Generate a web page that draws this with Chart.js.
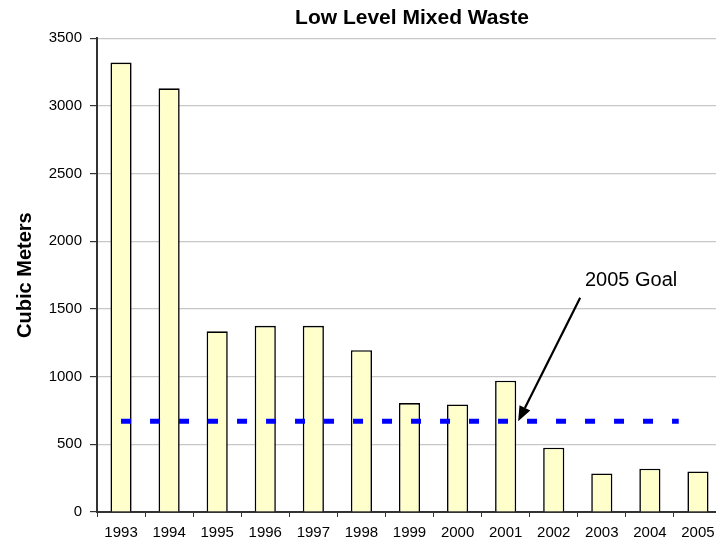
<!DOCTYPE html>
<html>
<head>
<meta charset="utf-8">
<title>Low Level Mixed Waste</title>
<script src="https://cdn.jsdelivr.net/npm/chart.js@4/dist/chart.umd.min.js"></script>
<style>
  html, body { margin: 0; padding: 0; background: #fff; overflow: hidden; }
  #wrap { width: 824px; height: 542px; }
</style>
</head>
<body>
<div id="wrap"><canvas id="wasteChart" width="824" height="542"></canvas></div>
<script>
  // data
  const years = ["1993", "1994", "1995", "1996", "1997", "1998", "1999", "2000", "2001", "2002", "2003", "2004", "2005"];
  const volumes = [3320, 3130, 1335, 1375, 1375, 1195, 805, 795, 970, 475, 285, 320, 300];
  const goalValue = 670;
  const goalLine = [{ x: 0, y: goalValue }, { x: 11.6, y: goalValue }];
  const yTicks = [0, 500, 1000, 1500, 2000, 2500, 3000, 3500];

  const FONT = "'Liberation Sans', Arial, sans-serif";

  // "2005 Goal" label with its arrow, placed in data units
  const goalNote = {
    text: "2005 Goal",
    textAt: { x: 10.61, y: 1713 },
    from: { x: 9.55, y: 1582 },
    to: { x: 8.26, y: goalValue }
  };

  const notePlugin = {
    id: "goalNote",
    afterDatasetsDraw(chart) {
      const ctx = chart.ctx;
      const xs = chart.scales.xg;
      const ys = chart.scales.y;

      ctx.save();
      ctx.fillStyle = "#000";
      ctx.font = "20px " + FONT;
      ctx.textAlign = "center";
      ctx.textBaseline = "middle";
      ctx.fillText(goalNote.text, xs.getPixelForValue(goalNote.textAt.x), ys.getPixelForValue(goalNote.textAt.y));

      const x1 = xs.getPixelForValue(goalNote.from.x);
      const y1 = ys.getPixelForValue(goalNote.from.y);
      const x2 = xs.getPixelForValue(goalNote.to.x);
      const y2 = ys.getPixelForValue(goalNote.to.y);
      const ang = Math.atan2(y2 - y1, x2 - x1);
      const headLen = 15;
      const headHalf = 6;
      const bx = x2 - headLen * Math.cos(ang);
      const by = y2 - headLen * Math.sin(ang);

      ctx.strokeStyle = "#000";
      ctx.lineWidth = 2.2;
      ctx.beginPath();
      ctx.moveTo(x1, y1);
      ctx.lineTo(bx, by);
      ctx.stroke();

      ctx.beginPath();
      ctx.moveTo(x2, y2);
      ctx.lineTo(bx + headHalf * Math.sin(ang), by - headHalf * Math.cos(ang));
      ctx.lineTo(bx - headHalf * Math.sin(ang), by + headHalf * Math.cos(ang));
      ctx.closePath();
      ctx.fill();
      ctx.restore();
    }
  };

  document.addEventListener("DOMContentLoaded", () => {
    const ctx = document.getElementById("wasteChart").getContext("2d");

    new Chart(ctx, {
      data: {
        labels: years,
        datasets: [
          {
            type: "bar",
            label: "Low Level Mixed Waste",
            data: volumes,
            backgroundColor: "#FFFFCC",
            borderColor: "#000",
            borderWidth: 1.6,
            barPercentage: 0.44,
            categoryPercentage: 1,
            grouped: false,
            order: 2
          },
          {
            type: "line",
            label: "2005 Goal",
            data: goalLine,
            xAxisID: "xg",
            borderColor: "#0000FF",
            borderWidth: 5,
            borderDash: [10, 19],
            borderCapStyle: "butt",
            pointRadius: 0,
            fill: false,
            order: 1
          }
        ]
      },
      options: {
        responsive: false,
        animation: false,
        devicePixelRatio: 1,
        plugins: {
          legend: { display: false },
          tooltip: { enabled: false },
          title: {
            display: true,
            text: "Low Level Mixed Waste",
            color: "#000",
            font: { family: FONT, size: 21, weight: "bold" },
            padding: { top: 6, bottom: 7 }
          }
        },
        scales: {
          x: {
            type: "category",
            offset: true,
            grid: {
              display: true,
              drawOnChartArea: false,
              drawTicks: true,
              tickLength: 5,
              tickColor: "#333",
              offset: true
            },
            border: { color: "#333", width: 2 },
            ticks: {
              color: "#000",
              font: { family: FONT, size: 15 },
              padding: 7,
              maxRotation: 0,
              autoSkip: false
            },
            afterFit: (scale) => { scale.height = 30; }
          },
          xg: {
            type: "linear",
            display: false,
            min: -0.5,
            max: 12.5
          },
          y: {
            min: 0,
            max: 3500,
            afterBuildTicks: (scale) => {
              scale.ticks = yTicks.map(v => ({ value: v }));
            },
            grid: {
              color: "#c8c8c8",
              lineWidth: 1.2,
              tickLength: 7,
              tickColor: "#333"
            },
            border: { color: "#333", width: 2 },
            ticks: {
              color: "#000",
              font: { family: FONT, size: 15 },
              padding: 8,
              callback: (v) => String(v)
            },
            title: {
              display: true,
              text: "Cubic Meters",
              color: "#000",
              font: { family: FONT, size: 20, weight: "bold" },
              padding: { top: 13, bottom: 0 }
            },
            afterFit: (scale) => { scale.width = 97; }
          },
          // empty right axis: keeps the plot running past the window edge
          // while the title stays centred on the whole canvas
          spacer: {
            type: "linear",
            position: "right",
            display: true,
            grid: { display: false, drawTicks: false },
            border: { display: false },
            ticks: { display: false },
            afterFit: (scale) => { scale.width = 102; }
          }
        }
      },
      plugins: [notePlugin]
    });
  });
</script>
</body>
</html>
